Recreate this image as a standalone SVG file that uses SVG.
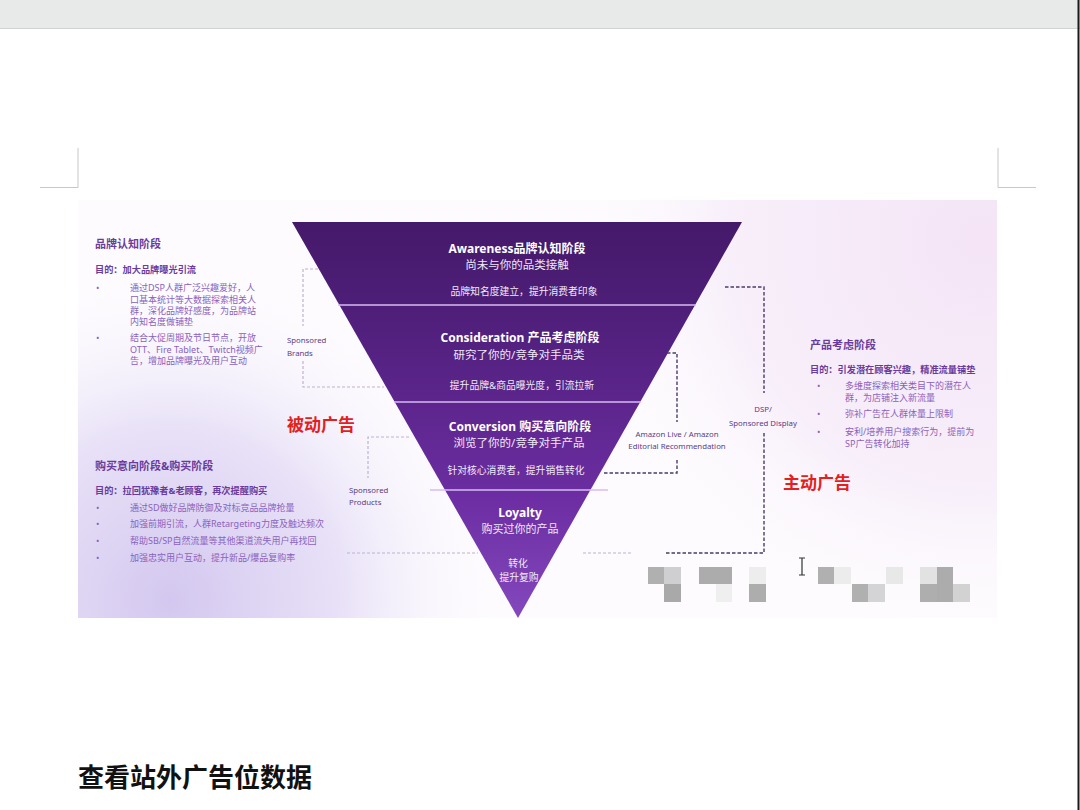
<svg xmlns="http://www.w3.org/2000/svg" width="1080" height="810" viewBox="0 0 1080 810">
<defs>
<linearGradient id="funnelGrad" x1="0" y1="222" x2="0" y2="618" gradientUnits="userSpaceOnUse">
<stop offset="0" stop-color="#45196a"/>
<stop offset="0.2" stop-color="#4d1e77"/>
<stop offset="0.45" stop-color="#5c258c"/>
<stop offset="0.7" stop-color="#6c2ea2"/>
<stop offset="1" stop-color="#8448bd"/>
</linearGradient>
<radialGradient id="bgLeft" cx="170" cy="600" r="340" gradientUnits="userSpaceOnUse">
<stop offset="0" stop-color="#d3c7ef"/>
<stop offset="0.5" stop-color="#e4dcf6" stop-opacity="0.85"/>
<stop offset="1" stop-color="#ffffff" stop-opacity="0"/>
</radialGradient>
<radialGradient id="bgRight" cx="980" cy="240" r="420" gradientUnits="userSpaceOnUse">
<stop offset="0" stop-color="#f4e4f6"/>
<stop offset="0.6" stop-color="#f6ecf9" stop-opacity="0.8"/>
<stop offset="1" stop-color="#ffffff" stop-opacity="0"/>
</radialGradient>
<style>
.f{font-family:'Noto Sans','Noto Sans CJK SC',sans-serif}
.fw{fill:#ffffff;font-weight:700;font-size:12px;text-anchor:middle}
.fs{fill:#efe6f7;font-size:11.5px;text-anchor:middle}
.fx{fill:#f1eaf8;font-size:9.8px;text-anchor:middle}
.hd{fill:#6a3b9e;font-weight:700;font-size:11px}
.gl{fill:#6a3b9e;font-weight:700;font-size:9.2px}
.bt{fill:#8a62bd;font-size:9px}
.lb{fill:#5a3c88;font-size:7.8px}
.red{fill:#e3201d;font-weight:700;font-size:17px}
.dl{fill:none;stroke:#bfb2d2;stroke-width:1.2;stroke-dasharray:3 2}
.dd{fill:none;stroke:#4a3c68;stroke-width:1.4;stroke-dasharray:3.5 2}
.sep{stroke:#d6bdf0;stroke-width:1.6}
</style>
</defs>

<!-- page chrome -->
<rect x="0" y="0" width="1080" height="810" fill="#ffffff"/>
<rect x="0" y="0" width="1080" height="28" fill="#e8eaea"/>
<line x1="0" y1="28.5" x2="1080" y2="28.5" stroke="#d2d4d4" stroke-width="1"/>
<line x1="1078.5" y1="0" x2="1078.5" y2="810" stroke="#1a1a1a" stroke-width="2"/>
<path d="M78 148 V187.5 H40" fill="none" stroke="#c8c8c8" stroke-width="1"/>
<path d="M998 148 V187.5 H1036" fill="none" stroke="#c8c8c8" stroke-width="1"/>

<!-- slide background -->
<rect x="78" y="200" width="919" height="418" fill="#fdfbfe"/>
<rect x="78" y="200" width="919" height="418" fill="url(#bgRight)"/>
<rect x="78" y="200" width="919" height="418" fill="url(#bgLeft)"/>

<!-- funnel -->
<g id="funnel">
<polygon points="292,222 742,222 518,618" fill="url(#funnelGrad)"/>
<line class="sep" x1="338" y1="305" x2="696" y2="305"/>
<line class="sep" x1="394" y1="402" x2="641" y2="402"/>
<line class="sep" x1="430" y1="490" x2="608" y2="490"/>
</g>

<g id="awareness" class="f">
<text class="fw" x="517" y="253">Awareness品牌认知阶段</text>
<text class="fs" x="517" y="269">尚未与你的品类接触</text>
<text class="fx" x="524" y="295">品牌知名度建立，提升消费者印象</text>
</g>
<g id="consideration" class="f">
<text class="fw" x="520" y="342">Consideration 产品考虑阶段</text>
<text class="fs" x="519" y="359">研究了你的/竞争对手品类</text>
<text class="fx" x="522" y="389">提升品牌&amp;商品曝光度，引流拉新</text>
</g>
<g id="conversion" class="f">
<text class="fw" x="520" y="431">Conversion 购买意向阶段</text>
<text class="fs" x="519" y="447">浏览了你的/竞争对手产品</text>
<text class="fx" x="516" y="474">针对核心消费者，提升销售转化</text>
</g>
<g id="loyalty" class="f">
<text class="fw" x="520" y="517">Loyalty</text>
<text class="fs" x="520" y="533" style="font-size:11px">购买过你的产品</text>
<text class="fx" x="518" y="567">转化</text>
<text class="fx" x="519" y="581">提升复购</text>
</g>

<!-- connectors -->
<g id="connectors">
<path class="dl" d="M318 269 H303 V326"/>
<path class="dl" d="M303 361 V387 H384"/>
<path class="dl" d="M409 437 H368 V478"/>
<path class="dl" d="M347 553 H478"/>
<path class="dl" d="M583 553 H632"/>
<path class="dd" d="M667 353 H677 V422"/>
<path class="dd" d="M677 460 V473 H604"/>
<path class="dd" d="M725 287 H764 V393"/>
<path class="dd" d="M764 433 V553 H665"/>
</g>

<g id="label-sponsored-brands" class="f">
<text class="lb" x="287" y="343">Sponsored</text>
<text class="lb" x="287" y="356">Brands</text>
</g>
<g id="label-sponsored-products" class="f">
<text class="lb" x="349" y="493">Sponsored</text>
<text class="lb" x="349" y="505">Products</text>
</g>
<g id="label-amazon-live" class="f">
<text class="lb" x="677" y="437" text-anchor="middle">Amazon Live / Amazon</text>
<text class="lb" x="677" y="449" text-anchor="middle">Editorial Recommendation</text>
</g>
<g id="label-dsp" class="f">
<text class="lb" x="763" y="412" text-anchor="middle">DSP/</text>
<text class="lb" x="763" y="426" text-anchor="middle">Sponsored Display</text>
</g>

<g id="passive-ads" class="f"><text class="red" x="287" y="431">被动广告</text></g>
<g id="active-ads" class="f"><text class="red" x="783" y="489">主动广告</text></g>

<!-- left: brand awareness -->
<g id="brand-awareness-stage" class="f">
<text class="hd" x="95" y="248">品牌认知阶段</text>
<text class="gl" x="95" y="273">目的：加大品牌曝光引流</text>
<text class="bt" x="96" y="291">•</text>
<text class="bt" x="130" y="291">通过DSP人群广泛兴趣爱好，人</text>
<text class="bt" x="130" y="303">口基本统计等大数据探索相关人</text>
<text class="bt" x="130" y="314">群，深化品牌好感度，为品牌站</text>
<text class="bt" x="130" y="325">内知名度做铺垫</text>
<text class="bt" x="96" y="341">•</text>
<text class="bt" x="130" y="341">结合大促周期及节日节点，开放</text>
<text class="bt" x="130" y="353">OTT、Fire Tablet、Twitch视频广</text>
<text class="bt" x="130" y="364">告，增加品牌曝光及用户互动</text>
</g>

<!-- left: purchase intent -->
<g id="purchase-stage" class="f">
<text class="hd" x="95" y="470">购买意向阶段&amp;购买阶段</text>
<text class="gl" x="95" y="494">目的：拉回犹豫者&amp;老顾客，再次提醒购买</text>
<text class="bt" x="96" y="511">•</text>
<text class="bt" x="130" y="511">通过SD做好品牌防御及对标竞品品牌抢量</text>
<text class="bt" x="96" y="527">•</text>
<text class="bt" x="130" y="527">加强前期引流，人群Retargeting力度及触达频次</text>
<text class="bt" x="96" y="544">•</text>
<text class="bt" x="130" y="544">帮助SB/SP自然流量等其他渠道流失用户再找回</text>
<text class="bt" x="96" y="561">•</text>
<text class="bt" x="130" y="561">加强忠实用户互动，提升新品/爆品复购率</text>
</g>

<!-- right: product consideration -->
<g id="product-consideration-stage" class="f">
<text class="hd" x="810" y="349">产品考虑阶段</text>
<text class="gl" x="810" y="373">目的：引发潜在顾客兴趣，精准流量铺垫</text>
<text class="bt" x="817" y="389">•</text>
<text class="bt" x="845" y="389">多维度探索相关类目下的潜在人</text>
<text class="bt" x="845" y="401">群，为店铺注入新流量</text>
<text class="bt" x="817" y="417">•</text>
<text class="bt" x="845" y="417">弥补广告在人群体量上限制</text>
<text class="bt" x="817" y="435">•</text>
<text class="bt" x="845" y="435">安利/培养用户搜索行为，提前为</text>
<text class="bt" x="845" y="447">SP广告转化加持</text>
</g>

<!-- pixelated blur -->
<g id="mosaic">
<rect x="648" y="567" width="16" height="17" fill="#b0b0b0"/>
<rect x="664" y="567" width="17" height="17" fill="#cfcfd2"/>
<rect x="664" y="584" width="17" height="18" fill="#a9a9aa"/>
<rect x="699" y="567" width="33" height="17" fill="#acacad"/>
<rect x="716" y="584" width="16" height="18" fill="#efeff0"/>
<rect x="749" y="567" width="17" height="17" fill="#ededee"/>
<rect x="749" y="584" width="17" height="18" fill="#adadae"/>
<rect x="818" y="567" width="16" height="17" fill="#b0b0b1"/>
<rect x="834" y="567" width="17" height="17" fill="#ececed"/>
<rect x="852" y="584" width="16" height="18" fill="#b0b0b1"/>
<rect x="868" y="584" width="17" height="18" fill="#d4d4d6"/>
<rect x="886" y="567" width="17" height="17" fill="#e8e8e9"/>
<rect x="920" y="567" width="17" height="17" fill="#e2e2e3"/>
<rect x="937" y="567" width="16" height="35" fill="#acacad"/>
<rect x="920" y="584" width="17" height="18" fill="#aeaeaf"/>
<rect x="953" y="584" width="17" height="18" fill="#d2d2d3"/>
</g>
<path d="M799 558 H805 M802 558 V575 M799 575 H805" stroke="#333" stroke-width="1.2" fill="none"/>

<g id="heading" class="f">
<text x="78" y="787" font-family="'Noto Sans CJK SC',sans-serif" font-weight="700" font-size="26" fill="#111111">查看站外广告位数据</text>
</g>
</svg>
